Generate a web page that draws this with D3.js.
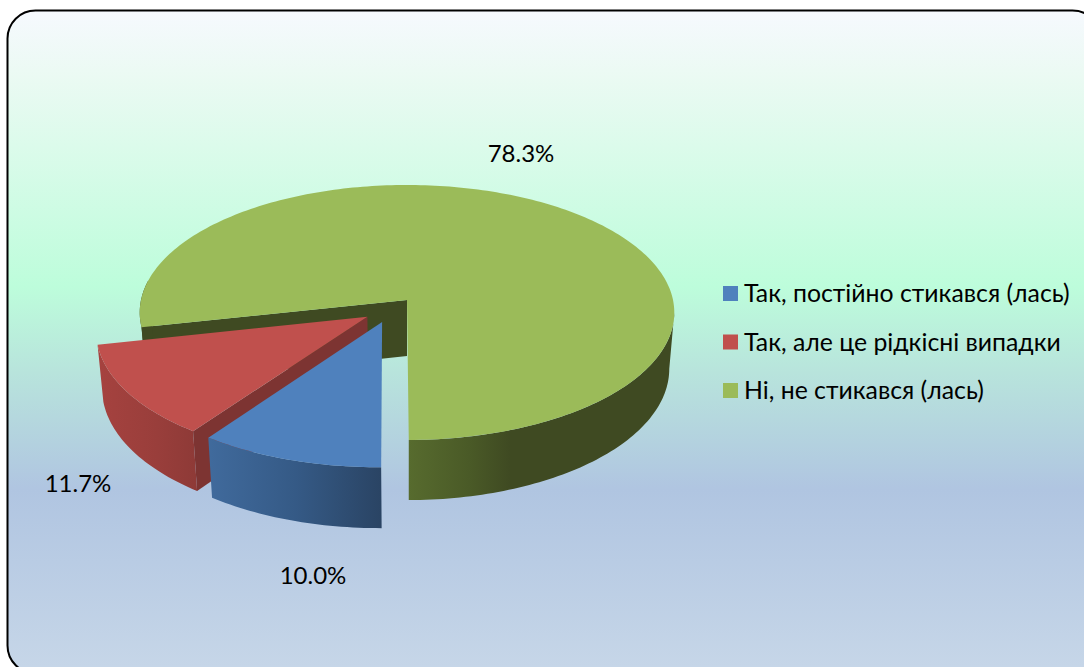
<!DOCTYPE html>
<html lang="uk">
<head>
    <meta charset="UTF-8">
    <title>Кругова діаграма</title>
    <script src="https://cdnjs.cloudflare.com/ajax/libs/d3/7.8.5/d3.min.js"></script>
    <style>
        html, body { margin: 0; padding: 0; background: #fff; overflow: hidden; }
        svg { display: block; }
        text { font-family: Lato, "Open Sans", sans-serif; fill: #000; }
    </style>
</head>
<body>
<script type="text/javascript">
    const categories = ["Так, постійно стикався (лась)", "Так, але це рідкісні випадки", "Ні, не стикався (лась)"];
    const values = [10.0, 11.7, 78.3];
    const topColors = ["#4f81bd", "#c0504d", "#9bbb59"];
    const labelPos = [[313, 575], [78, 483], [521, 153]];

    const width = 1084, height = 667;

    // how far each slice is pulled out, in pie radii (u right, v towards the viewer)
    const explode = [[-0.092, 0.172], [-0.147, 0.13], [0, 0]];

    // perspective of the tilted disc
    const cx = 407, k = 0.098;
    const topPlane = {x: 266, y0: 300, a: 126.3};
    const botPlane = {x: 261, y0: 356, a: 130};

    const project = (plane, u, v) => {
        const w = 1 - k * v;
        return [cx + plane.x * u / w, plane.y0 + plane.a * v / w];
    };
    // angle is clockwise from 12 o'clock, like d3.pie
    const pt = (plane, i, a, r = 1) => project(plane,
        r * Math.sin(a) + explode[i][0],
        -r * Math.cos(a) + explode[i][1]);

    const arcAngles = (a0, a1) => {
        const n = Math.max(2, Math.ceil(Math.abs(a1 - a0) / 0.02));
        return d3.range(n + 1).map(j => a0 + (a1 - a0) * j / n);
    };

    const line = d3.line();
    const color = d3.scaleOrdinal().domain(categories).range(topColors);

    const slices = d3.pie().sort(null).startAngle(Math.PI - 0.006).endAngle(3 * Math.PI - 0.006)(values);

    const svg = d3.select("body").append("svg")
        .attr("width", width)
        .attr("height", height);
    const defs = svg.append("defs");

    const bg = defs.append("linearGradient").attr("id", "bg")
        .attr("gradientUnits", "userSpaceOnUse")
        .attr("x1", 0).attr("x2", 0).attr("y1", 10).attr("y2", 667);
    [[0, "#f6f9fe"], [0.1, "#ebfaf3"], [0.42, "#bdfddb"], [0.55, "#b8e4dc"], [0.73, "#b0c5e1"], [1, "#c6d6e8"]]
        .forEach(s => bg.append("stop").attr("offset", s[0]).attr("stop-color", s[1]));

    svg.append("rect")
        .attr("x", 7.5).attr("y", 10.5)
        .attr("width", 1093).attr("height", 663)
        .attr("rx", 28).attr("ry", 28)
        .attr("fill", "url(#bg)")
        .attr("stroke", "#000")
        .attr("stroke-width", 2);

    function wallGradient(id, x1, x2, stops) {
        const g = defs.append("linearGradient").attr("id", id)
            .attr("gradientUnits", "userSpaceOnUse")
            .attr("x1", x1).attr("x2", x2).attr("y1", 0).attr("y2", 0);
        stops.forEach(s => g.append("stop").attr("offset", s[0]).attr("stop-color", s[1]));
        return `url(#${id})`;
    }
    const blueWall = wallGradient("wb", 210, 381, [[0, "#406a9c"], [0.5, "#355a86"], [1, "#2a4464"]]);
    const redWall = wallGradient("wr", 100, 196, [[0, "#a5423f"], [0.6, "#993e3b"], [1, "#8e3a37"]]);
    const greenWall = wallGradient("wg", 409, 510, [[0, "#576b2e"], [0.6, "#4a5a27"], [1, "#3f4a22"]]);

    const pie = svg.append("g");

    function outerWall(i, a0, a1, fill) {
        const angles = arcAngles(a0, a1);
        const pts = angles.map(a => pt(topPlane, i, a))
            .concat(angles.slice().reverse().map(a => pt(botPlane, i, a)));
        pie.append("path").attr("d", line(pts) + "Z").attr("fill", fill);
    }
    function radialWall(i, a, fill) {
        const pts = [pt(topPlane, i, a, 0), pt(topPlane, i, a), pt(botPlane, i, a), pt(botPlane, i, a, 0)];
        pie.append("path").attr("d", line(pts) + "Z").attr("fill", fill);
    }
    function topFace(i, a0, a1) {
        const pts = [pt(topPlane, i, a0, 0)].concat(arcAngles(a0, a1).map(a => pt(topPlane, i, a)));
        pie.append("path").attr("d", line(pts) + "Z").attr("fill", color(categories[i]));
    }

    // painted back to front: green, red, blue
    const [blue, red, green] = slices;

    radialWall(2, green.startAngle, "#3f4a22");
    outerWall(2, green.startAngle, 1.55 * Math.PI, "#3f4a22");
    outerWall(2, 2.5 * Math.PI + 0.1, green.endAngle, greenWall);
    topFace(2, green.startAngle, green.endAngle);

    radialWall(1, red.startAngle, "#7d3432");
    outerWall(1, red.startAngle, red.endAngle, redWall);
    topFace(1, red.startAngle, red.endAngle);

    outerWall(0, blue.startAngle, blue.endAngle, blueWall);
    topFace(0, blue.startAngle, blue.endAngle);

    // value labels
    svg.append("g").selectAll("text")
        .data(values)
        .enter().append("text")
        .attr("x", (d, i) => labelPos[i][0])
        .attr("y", (d, i) => labelPos[i][1])
        .attr("dy", "0.36em")
        .attr("text-anchor", "middle")
        .attr("font-size", 24)
        .text(d => d3.format(".1f")(d) + "%");

    // legend
    const legendY = d3.scalePoint().domain(categories).range([294, 391]);
    const legend = svg.append("g").selectAll("g")
        .data(categories)
        .enter().append("g")
        .attr("transform", d => `translate(723,${legendY(d)})`);
    legend.append("rect")
        .attr("y", -8).attr("width", 15).attr("height", 15)
        .attr("fill", d => color(d));
    legend.append("text")
        .attr("x", 21)
        .attr("dy", "0.33em")
        .attr("font-size", 24.8)
        .text(d => d);
</script>
</body>
</html>
